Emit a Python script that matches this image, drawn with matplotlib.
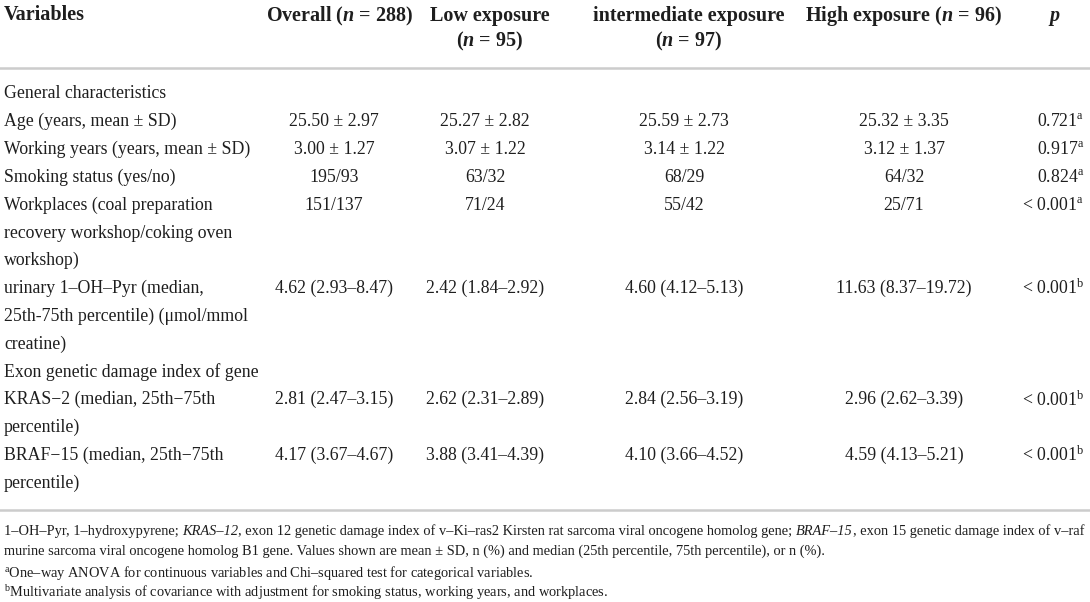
import matplotlib
matplotlib.use('Agg')
import matplotlib.pyplot as plt

# table content
labels = [
    ["General characteristics"],
    ["Age (years, mean ± SD)"],
    ["Working years (years, mean ± SD)"],
    ["Smoking status (yes/no)"],
    ["Workplaces (coal preparation", "recovery workshop/coking oven", "workshop)"],
    ["urinary 1–OH–Pyr (median,", "25th-75th percentile) (μmol/mmol", "creatine)"],
    ["Exon genetic damage index of gene"],
    ["KRAS−2 (median, 25th−75th", "percentile)"],
    ["BRAF−15 (median, 25th−75th", "percentile)"],
]
overall = ["", "25.50 ± 2.97", "3.00 ± 1.27", "195/93", "151/137", "4.62 (2.93–8.47)", "",
           "2.81 (2.47–3.15)", "4.17 (3.67–4.67)"]
low = ["", "25.27 ± 2.82", "3.07 ± 1.22", "63/32", "71/24", "2.42 (1.84–2.92)", "",
       "2.62 (2.31–2.89)", "3.88 (3.41–4.39)"]
mid = ["", "25.59 ± 2.73", "3.14 ± 1.22", "68/29", "55/42", "4.60 (4.12–5.13)", "",
       "2.84 (2.56–3.19)", "4.10 (3.66–4.52)"]
high = ["", "25.32 ± 3.35", "3.12 ± 1.37", "64/32", "25/71", "11.63 (8.37–19.72)", "",
        "2.96 (2.62–3.39)", "4.59 (4.13–5.21)"]
p_vals = ["", "0.721", "0.917", "0.824", "< 0.001", "< 0.001", "", "< 0.001", "< 0.001"]
p_note = ["", "a", "a", "a", "a", "b", "", "b", "b"]

headers = [
    (["Overall ($\\mathbf{n}$ = 288)"], 340),
    (["Low exposure", "($\\mathbf{n}$ = 95)"], 490),
    (["intermediate exposure", "($\\mathbf{n}$ = 97)"], 689),
    (["High exposure ($\\mathbf{n}$ = 96)"], 904),
]

plt.rcParams['font.family'] = ['Liberation Serif', 'DejaVu Serif']
plt.rcParams['mathtext.fontset'] = 'custom'
plt.rcParams['mathtext.rm'] = 'Liberation Serif'
plt.rcParams['mathtext.it'] = 'Liberation Serif:italic'
plt.rcParams['mathtext.bf'] = 'Liberation Serif:bold:italic'

ink = '#1e1e1e'
rule = '#cccccc'
body = 12.8
head = 14.5
foot = 10.35

fig = plt.figure(figsize=(10.9, 6.02), dpi=100)
ax = fig.add_axes([0, 0, 1, 1])
ax.set_xlim(0, 1090)
ax.set_ylim(602, 0)
ax.axis('off')

# header
ax.text(4, 13, "Variables", fontsize=head, fontweight='bold', va='center_baseline', color=ink)
for lines, cx in headers:
    for k, s in enumerate(lines):
        ax.text(cx, 13 + 25 * k, s, fontsize=head, fontweight='bold', ha='center',
                va='center_baseline', color=ink)
ax.text(1054, 13, "p", fontsize=head, fontweight='bold', fontstyle='italic', ha='center',
        va='center_baseline', color=ink)

ax.plot([0, 1090], [68, 68], color=rule, lw=1.8)

# body rows
pitch = 27.8
line = 0
cols = [(overall, 334), (low, 485), (mid, 684), (high, 904)]
for i, lab in enumerate(labels):
    y0 = 92 + pitch * line
    for k, s in enumerate(lab):
        ax.text(4, y0 + pitch * k, s, fontsize=body, va='center_baseline', color=ink)
    for vals, cx in cols:
        if vals[i]:
            ax.text(cx, y0, vals[i], fontsize=body, ha='center', va='center_baseline', color=ink)
    if p_vals[i]:
        ax.text(1084, y0, p_vals[i] + "$^{\\mathrm{" + p_note[i] + "}}$", fontsize=body,
                ha='right', va='center_baseline', color=ink)
    line += len(lab)

ax.plot([0, 1090], [510, 510], color=rule, lw=1.8)

# footnotes
renderer = fig.canvas.get_renderer()
inv = ax.transData.inverted()


def draw_runs(x, y, runs, size):
    for s, style, gap in runs:
        t = ax.text(x, y, s, fontsize=size, fontstyle=style, va='center_baseline', color=ink)
        bb = t.get_window_extent(renderer)
        x = inv.transform((bb.x1, bb.y0))[0] + gap


sp = foot * 100 / 72 * 0.25
draw_runs(4, 530, [
    ("1–OH–Pyr, 1–hydroxypyrene;", 'normal', sp),
    ("KRAS–12", 'italic', 0),
    (", exon 12 genetic damage index of v–Ki–ras2 Kirsten rat sarcoma viral oncogene homolog gene;",
     'normal', sp),
    ("BRAF–15", 'italic', 0),
    (", exon 15 genetic damage index of v–raf", 'normal', 0),
], foot)
ax.text(4, 550, "murine sarcoma viral oncogene homolog B1 gene. Values shown are mean ± SD, n (%) and "
        "median (25th percentile, 75th percentile), or n (%).", fontsize=foot,
        va='center_baseline', color=ink)
ax.text(4, 570, "${}^{\\mathrm{a}}$One–way ANOVA for continuous variables and Chi–squared test for "
        "categorical variables.", fontsize=foot, va='center_baseline', color=ink)
ax.text(4, 590, "${}^{\\mathrm{b}}$Multivariate analysis of covariance with adjustment for smoking "
        "status, working years, and workplaces.", fontsize=foot, va='center_baseline', color=ink)

fig.savefig('out.png', dpi=100, facecolor='white')
